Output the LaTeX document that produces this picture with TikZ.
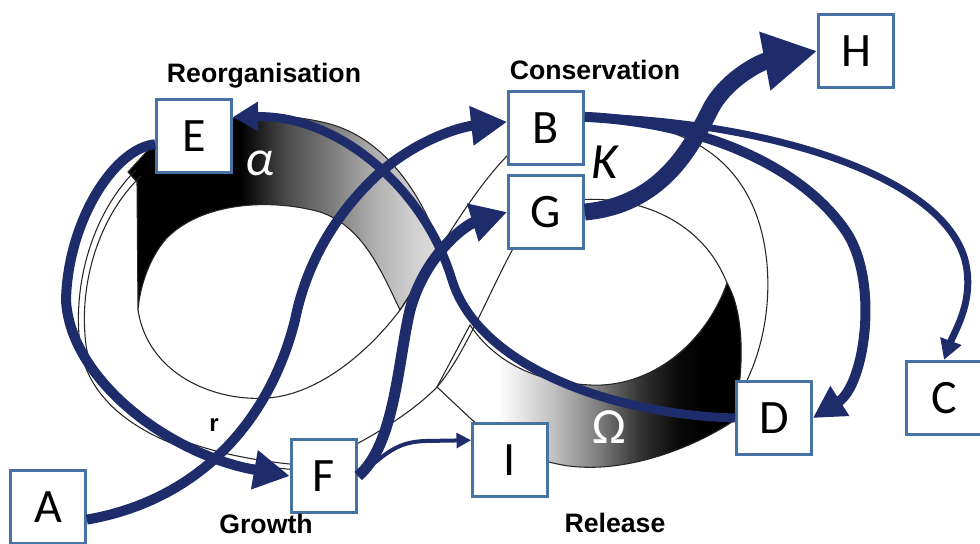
\documentclass[tikz,border=0pt]{standalone}
\usepackage{fontspec}
\setmainfont{Carlito}
\newfontfamily\labelfont{Liberation Sans}
\usetikzlibrary{arrows.meta}

\definecolor{flowblue}{RGB}{31,44,108}
\definecolor{boxblue}{RGB}{70,114,165}

\pgfdeclarehorizontalshading{alphashade}{100bp}{color(0bp)=(black); color(25bp)=(black); color(43bp)=(black); color(50bp)=(black!72); color(58bp)=(black!50); color(65bp)=(black!30); color(71bp)=(black!18); color(75bp)=(black!13); color(100bp)=(black!13)}
\pgfdeclarehorizontalshading{omegashade}{100bp}{color(0bp)=(white); color(25bp)=(white); color(35bp)=(white); color(44bp)=(black!25); color(51bp)=(black!50); color(58bp)=(black!80); color(64bp)=(black!96); color(68bp)=(black); color(100bp)=(black)}

\tikzset{every picture/.style={line width=0.75pt}}
\tikzset{
  box/.style={draw=boxblue, line width=2.25pt, fill=white, minimum width=56pt, minimum height=55pt, inner sep=0pt, font=\fontsize{36}{36}\selectfont},
  stage/.style={font=\labelfont\bfseries\fontsize{20}{20}\selectfont, inner sep=0pt, anchor=base},
  greek/.style={font=\fontsize{38}{38}\selectfont, inner sep=0pt},
  band/.style={draw=black!85, line width=0.8pt},
  flow/.style={flowblue, line width=7.5pt, -{Triangle[length=27pt,width=28pt]}},
}

\begin{document}
\begin{tikzpicture}[x=0.75pt,y=0.75pt,yscale=-1,xscale=1]
%page frame: 980 wide, 543 high
\useasboundingbox (0,0) rectangle (980,543);

%Shape: alpha band
\draw[band, shading=alphashade] (128,172) -- (150,148) .. controls (200,115) and (270,108) .. (330,124) .. controls (380,138) and (418,185) .. (440,247) -- (400,310) .. controls (380,268) and (362,226) .. (320,212) .. controls (270,198) and (200,202) .. (165,240) .. controls (150,258) and (140,285) .. (138,310) -- (137,182) -- cycle;
%Shape: omega band
\draw[band, shading=omegashade] (470,325) .. controls (495,362) and (535,382) .. (590,385) .. controls (650,388) and (705,345) .. (727,283) .. controls (740,305) and (745,345) .. (738,395) -- (735,420) .. controls (690,450) and (630,470) .. (580,467) .. controls (540,465) and (500,445) .. (470,418) -- (437,387) -- cycle;

%Curve Lines: left lobe
\draw[band] (136,170) .. controls (95,210) and (72,280) .. (80,345) .. controls (90,420) and (180,462) .. (300,470);
\draw[band] (141,176) .. controls (100,215) and (78,282) .. (86,345) .. controls (96,415) and (185,455) .. (300,465);
\draw[band] (345,450) .. controls (385,430) and (420,405) .. (437,387) .. controls (465,355) and (490,290) .. (515,245);
\draw[band] (138,310) .. controls (148,375) and (215,402) .. (268,398) .. controls (320,394) and (370,350) .. (400,310) .. controls (430,268) and (470,190) .. (515,148);
%Curve Lines: right lobe
\draw[band] (575,117) .. controls (660,120) and (720,140) .. (750,200) .. controls (775,250) and (775,330) .. (742,390);
\draw[band] (575,200) .. controls (630,195) and (700,215) .. (727,283);

%Flowchart: Process
\node[box] (E) at (194,136) {E};
\node[box] (B) at (546,128) {B};
\node[box] (G) at (546,212) {G};
\node[box] (H) at (856,51) {H};
\node[box] (D) at (774,418) {D};
\node[box] (C) at (944,398) {C};
\node[box] (I) at (510,460) {I};
\node[box, minimum width=49pt] (F) at (324,476) {F};
\node[box] (A) at (48,507) {A};

%Curve Lines: flows
\draw[flow] (A.342) .. controls (200,500) and (270,420) .. (295,320) .. controls (305,270) and (330,220) .. (375,177) .. controls (415,140) and (460,127) .. (B.171);
\draw[flow] (E.192) .. controls (115,148) and (68,220) .. (66,300) .. controls (70,380) and (170,455) .. (F.west);
\draw[flow, line width=6.75pt, -{Triangle[length=19pt,width=21pt]}] (D.west) .. controls (620,415) and (480,370) .. (452,280) .. controls (425,190) and (340,115) .. (E.26);
\draw[flow, line width=8.25pt] (F.east) .. controls (395,445) and (398,360) .. (410,310) .. controls (425,255) and (465,225) .. (G.west);
\draw[flow, line width=3pt, -{Triangle[length=11pt,width=11pt]}] (F.east) .. controls (385,455) and (395,442) .. (425,441) -- (I.153);
\draw[flow, line width=12.75pt, -{Triangle[length=40pt,width=42pt]}] (G.east) .. controls (660,205) and (690,150) .. (710,110) .. controls (725,80) and (760,62) .. (H.west);
\draw[flow, line width=7.5pt, -{Triangle[length=24pt,width=25pt]}] (B.16) .. controls (700,122) and (800,165) .. (845,230) .. controls (880,280) and (865,385) .. (D.east);
\draw[flow, line width=5.25pt, -{Triangle[length=15pt,width=16pt]}] (B.16) .. controls (750,120) and (940,170) .. (965,260) .. controls (975,300) and (955,330) .. (C.north);

% Text Node
\node[stage] (reorg) at (264,82) {Reorganisation};
\node[stage] (cons) at (595,79) {Conservation};
\node[stage] (grow) at (266,533) {Growth};
\node[stage] (rel) at (615,532) {Release};
\node[greek, text=white] (alpha) at (260,163) {\itshape α};
\node[greek] (kappa) at (605,162) {\itshape K};
\node[greek, text=white] (omega) at (609,427) {Ω};
\node[font=\labelfont\bfseries\fontsize{18}{18}\selectfont, inner sep=0pt] (r) at (214,425) {r};

\end{tikzpicture}
\end{document}
